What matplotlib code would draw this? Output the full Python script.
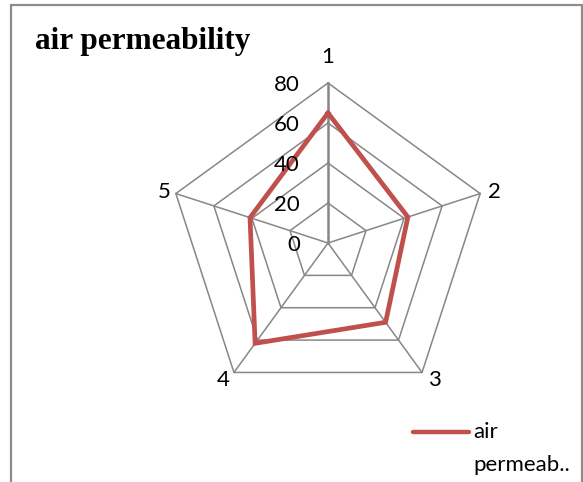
import numpy as np
import matplotlib
matplotlib.use("Agg")
import matplotlib.pyplot as plt
from matplotlib.lines import Line2D
from matplotlib.patches import Rectangle

# radar data
categories = ["1", "2", "3", "4", "5"]
values = [65, 42, 49, 62, 41]
levels = [0, 20, 40, 60, 80]
series_name = "air permeability"
legend_label = ["air", "permeab.."]

W, H = 583, 482
fig = plt.figure(figsize=(W / 100, H / 100), dpi=100)
fig.patch.set_facecolor("white")

# outer chart border (runs past the bottom edge)
fig.add_artist(Rectangle((10.5 / W, -0.1), 571 / W, 1.1 - 4.5 / H, transform=fig.transFigure,
                         fill=False, edgecolor="#8c8c8c", linewidth=1.6))

cx, cy, R = 328, 243, 160
ax = fig.add_axes([(cx - R) / W, (H - cy - R) / H, 2 * R / W, 2 * R / H], projection="polar")
ax.set_theta_zero_location("N")
ax.set_theta_direction(-1)
ax.set_ylim(0, levels[-1])
ax.grid(False)
ax.spines["polar"].set_visible(False)
ax.set_xticks([])
ax.set_yticks([])
ax.patch.set_alpha(0)

n = len(categories)
theta = np.arange(n) * 2 * np.pi / n
theta_closed = np.append(theta, theta[0])

grid_col = "#878787"
for lv in levels[1:]:
    ax.plot(theta_closed, [lv] * (n + 1), color=grid_col, lw=1.1, clip_on=False)
for i, t in enumerate(theta):
    ax.plot([t, t], [0, levels[-1]], color=grid_col, lw=1.8 if i == 0 else 1.1, clip_on=False)

vals = np.append(values, values[0])
ax.plot(theta_closed, vals, color="#C0504D", lw=3.4, solid_joinstyle="miter", clip_on=False)

fs = 16
# value axis labels
for lv in levels:
    ax.annotate(str(lv), (0, lv), xytext=(-28, -2), textcoords="offset pixels",
                ha="right", va="center", fontsize=fs, family="Lato", color="#000000")

# category labels
offsets = [(0, 26), (14, 2), (12, -8), (-11, -8), (-12, 2)]
for t, lab, off in zip(theta, categories, offsets):
    ax.annotate(lab, (t, levels[-1]), xytext=off, textcoords="offset pixels",
                ha="center", va="center", fontsize=fs, family="Lato", annotation_clip=False)

fig.text(35 / W, 1 - 49 / H, series_name, fontsize=22.5, fontweight="bold",
         family="Liberation Serif", ha="left", va="baseline")

# legend
fig.add_artist(Line2D([413 / W, 469 / W], [1 - 432 / H, 1 - 432 / H], transform=fig.transFigure,
                      color="#C0504D", lw=3.2, solid_capstyle="round"))
fig.text(473 / W, 1 - 432 / H, legend_label[0], fontsize=fs, family="Lato", ha="left", va="center")
fig.text(473 / W, 1 - 465 / H, legend_label[1], fontsize=fs, family="Lato", ha="left", va="center")

fig.savefig("out.png", dpi=100)
